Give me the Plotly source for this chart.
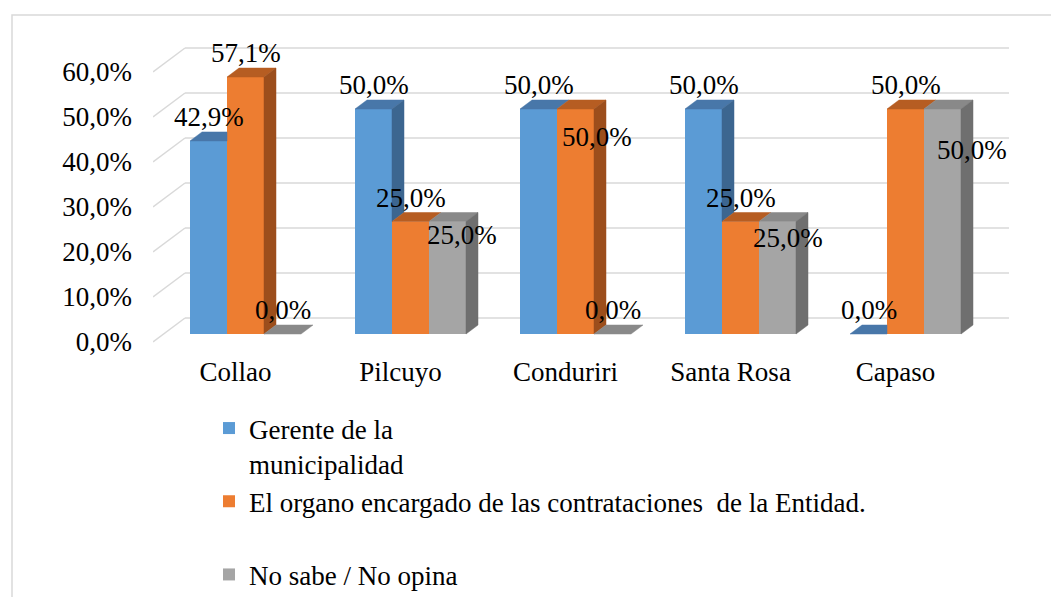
import plotly.graph_objects as go

# ---------------- data ----------------
categories = ["Collao", "Pilcuyo", "Conduriri", "Santa Rosa", "Capaso"]
series_names = [
    "Gerente de la<br>municipalidad",
    "El organo encargado de las contrataciones  de la Entidad.<br> ",
    "No sabe / No opina",
]
gerente = [0.429, 0.50, 0.50, 0.50, 0.00]
organo = [0.571, 0.25, 0.50, 0.25, 0.50]
no_sabe = [0.00, 0.25, 0.00, 0.25, 0.50]
y_ticks = [0.0, 0.1, 0.2, 0.3, 0.4, 0.5, 0.6]

# ---------------- style ----------------
FONT = "Liberation Serif"
FS = 27
front_colors = ["#5B9BD5", "#ED7D31", "#A5A5A5"]
top_colors = ["#4877A9", "#B65D22", "#898989"]
side_colors = ["#3C6690", "#9C4E1C", "#6F6F6F"]
grid_color = "#D9D9D9"

OFF = 8.0                                     # page body margin (px)
W, H = 1059 - int(OFF), 597 - int(OFF)
def P(v):
    return v - OFF

PL, PR, PT, PB = P(153), P(1010), P(20), P(345)   # plot area in figure px
CAT0, CAT_STEP = P(245.5), 165.0
ZERO_PX, PX_PER_UNIT = P(334.0), 450.0
BARGAP = 54.0 / 165.0
DEPTH_X, DEPTH_Y = 12.0, 9.0
FLOOR_FRONT_DY = 8.0
WALL_DY = 16.0
WALL_LEFT_PX, WALL_RIGHT_PX = P(185.0), P(1009.0)
CAT_LABEL_SHIFT = -10.0
LABEL_YSHIFT = 24.0
# extra label displacements (px): (category index, series index) -> (dx, dy_up)
label_shift = {(1, 2): (14, -37.5), (2, 1): (21, -52), (3, 2): (10, -40.5), (4, 2): (29, -65)}

def xd(px):
    return (px - CAT0) / CAT_STEP

x_range = [xd(PL), xd(PR)]
y_range = [(ZERO_PX - PB) / PX_PER_UNIT, (ZERO_PX - PT) / PX_PER_UNIT]
DX = DEPTH_X / CAT_STEP
DY = DEPTH_Y / PX_PER_UNIT
bw = (1 - BARGAP) / 3

series = [gerente, organo, no_sabe]

fig = go.Figure()

# front faces
for k, vals in enumerate(series):
    fig.add_trace(go.Bar(
        x=list(range(len(categories))), y=vals, name=series_names[k],
        legendgroup=f"g{k}", marker=dict(color=front_colors[k], line=dict(width=0)),
        hovertext=categories, hoverinfo="text+y",
    ))

# 3D top and side faces derived from the values
for k, vals in enumerate(series):
    tx, ty, sx, sy = [], [], [], []
    for i, v in enumerate(vals):
        xl = i + (k - 1.5) * bw
        xr = xl + bw
        nxt = series[k + 1][i] if k < len(series) - 1 else None
        if nxt is not None and nxt > v:
            px_ = [xl, xr, xr, xl + DX, xl]
        else:
            px_ = [xl, xr, xr + DX, xl + DX, xl]
        py_ = [v, v, v + DY, v + DY, v]
        tx += px_ + [None]
        ty += py_ + [None]
        lo = 0.0 if nxt is None else nxt
        if lo < v:
            sx += [xr, xr, xr + DX, xr + DX, xr, None]
            sy += [lo, v, v + DY, lo + DY, lo, None]
    fig.add_trace(go.Scatter(x=tx, y=ty, mode="lines", fill="toself", fillcolor=top_colors[k],
                             line=dict(color=top_colors[k], width=0.5), showlegend=False,
                             hoverinfo="skip"))
    if sx:
        fig.add_trace(go.Scatter(x=sx, y=sy, mode="lines", fill="toself", fillcolor=side_colors[k],
                                 line=dict(color=side_colors[k], width=0.5), showlegend=False,
                                 hoverinfo="skip"))

# gridlines: floor diagonal + back wall
shapes = []
for t in y_ticks:
    yf = t - FLOOR_FRONT_DY / PX_PER_UNIT
    yb = t + WALL_DY / PX_PER_UNIT
    shapes.append(dict(type="line", xref="x", yref="y", x0=x_range[0], y0=yf, x1=xd(WALL_LEFT_PX), y1=yb,
                       line=dict(color=grid_color, width=1.5), layer="below"))
    shapes.append(dict(type="line", xref="x", yref="y", x0=xd(WALL_LEFT_PX), y0=yb, x1=xd(WALL_RIGHT_PX), y1=yb,
                       line=dict(color=grid_color, width=1.5), layer="below"))
# chart border
pw, ph = PR - PL, PB - PT
shapes.append(dict(type="rect", xref="paper", yref="paper",
                   x0=(P(12) - PL) / pw, x1=(W + 20 - PL) / pw,
                   y0=(PB - P(15)) / ph, y1=(PB - (H + 20)) / ph,
                   line=dict(color=grid_color, width=1.5), layer="below"))

def fmt(v):
    return f"{v * 100:.1f}%".replace(".", ",")

# data labels
annotations = []
for k, vals in enumerate(series):
    for i, v in enumerate(vals):
        dxs, dys = label_shift.get((i, k), (0, 0))
        annotations.append(dict(
            x=i + (k - 1) * bw, y=v, xref="x", yref="y", text=fmt(v), showarrow=False,
            xanchor="center", yanchor="middle", xshift=dxs, yshift=LABEL_YSHIFT + dys,
            font=dict(family=FONT, size=FS, color="black"),
        ))

fig.update_layout(
    width=W, height=H,
    margin=dict(l=PL, r=W - PR, t=PT, b=H - PB, autoexpand=False),
    paper_bgcolor="white", plot_bgcolor="rgba(0,0,0,0)",
    barmode="group", bargap=BARGAP, bargroupgap=0,
    separators=",.",
    font=dict(family=FONT, size=FS, color="black"),
    xaxis=dict(range=x_range, tickvals=[i + CAT_LABEL_SHIFT / CAT_STEP for i in range(len(categories))],
               ticktext=categories, showgrid=False, zeroline=False, showline=False, ticks="",
               ticklabelstandoff=8, tickfont=dict(family=FONT, size=FS, color="black")),
    yaxis=dict(range=y_range, tickvals=[t - FLOOR_FRONT_DY / PX_PER_UNIT for t in y_ticks],
               ticktext=[fmt(t) for t in y_ticks], showgrid=False, zeroline=False, showline=False,
               ticks="", ticklabelstandoff=20, tickfont=dict(family=FONT, size=FS, color="black")),
    shapes=shapes,
    annotations=annotations,
    legend=dict(x=(P(209) - PL) / pw, y=(PB - P(404)) / ph, xanchor="left", yanchor="top",
                font=dict(family=FONT, size=FS, color="black"), valign="top",
                tracegroupgap=0, bgcolor="rgba(0,0,0,0)", traceorder="grouped"),
    showlegend=True,
)

fig.write_html("out.html")
